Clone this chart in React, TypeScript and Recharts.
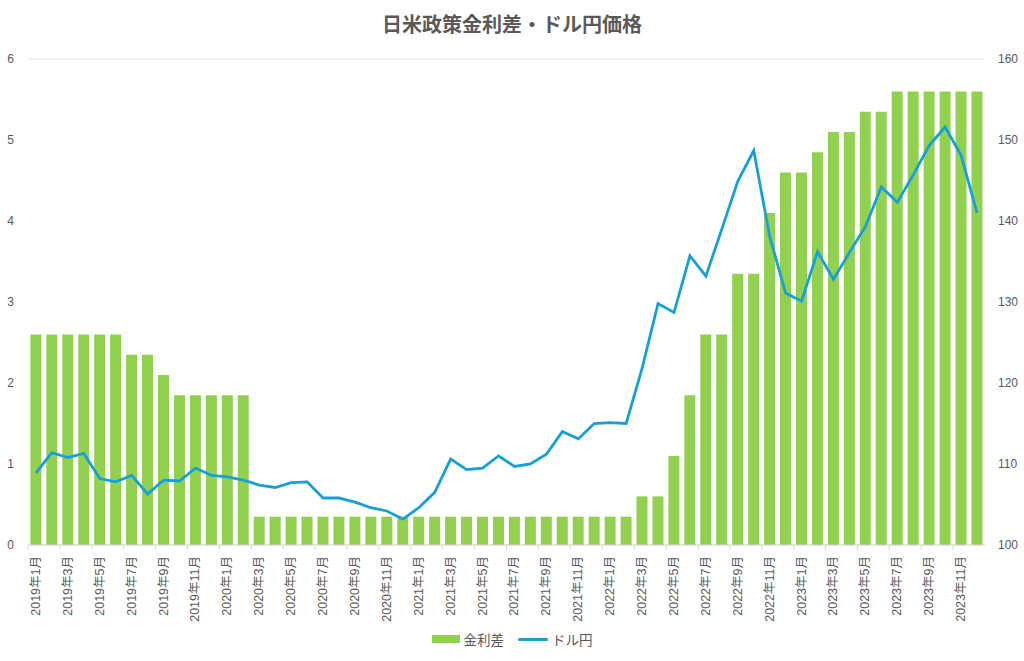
import { Bar, CartesianGrid, ComposedChart, Legend, Line, XAxis, YAxis } from "recharts";

const months = [
  "2019年1月", "2019年2月", "2019年3月", "2019年4月", "2019年5月", "2019年6月",
  "2019年7月", "2019年8月", "2019年9月", "2019年10月", "2019年11月", "2019年12月",
  "2020年1月", "2020年2月", "2020年3月", "2020年4月", "2020年5月", "2020年6月",
  "2020年7月", "2020年8月", "2020年9月", "2020年10月", "2020年11月", "2020年12月",
  "2021年1月", "2021年2月", "2021年3月", "2021年4月", "2021年5月", "2021年6月",
  "2021年7月", "2021年8月", "2021年9月", "2021年10月", "2021年11月", "2021年12月",
  "2022年1月", "2022年2月", "2022年3月", "2022年4月", "2022年5月", "2022年6月",
  "2022年7月", "2022年8月", "2022年9月", "2022年10月", "2022年11月", "2022年12月",
  "2023年1月", "2023年2月", "2023年3月", "2023年4月", "2023年5月", "2023年6月",
  "2023年7月", "2023年8月", "2023年9月", "2023年10月", "2023年11月", "2023年12月",
];

// 日米政策金利差 (%)
const spread = [
  2.6, 2.6, 2.6, 2.6, 2.6, 2.6, 2.35, 2.35, 2.1, 1.85, 1.85, 1.85,
  1.85, 1.85, 0.35, 0.35, 0.35, 0.35, 0.35, 0.35, 0.35, 0.35, 0.35, 0.35,
  0.35, 0.35, 0.35, 0.35, 0.35, 0.35, 0.35, 0.35, 0.35, 0.35, 0.35, 0.35,
  0.35, 0.35, 0.6, 0.6, 1.1, 1.85, 2.6, 2.6, 3.35, 3.35, 4.1, 4.6,
  4.6, 4.85, 5.1, 5.1, 5.35, 5.35, 5.6, 5.6, 5.6, 5.6, 5.6, 5.6,
];

// ドル円 (円)
const usdjpy = [
  108.9, 111.4, 110.8, 111.3, 108.2, 107.8, 108.6, 106.3, 108.0, 107.9, 109.5, 108.6,
  108.4, 108.0, 107.4, 107.1, 107.7, 107.8, 105.8, 105.8, 105.3, 104.6, 104.2, 103.2,
  104.6, 106.5, 110.6, 109.3, 109.5, 111.0, 109.7, 110.0, 111.2, 114.0, 113.1, 115.0,
  115.1, 115.0, 121.8, 129.8, 128.7, 135.7, 133.2, 139.0, 144.9, 148.7, 138.1, 131.1,
  130.1, 136.2, 132.8, 136.1, 139.3, 144.2, 142.3, 145.7, 149.3, 151.6, 148.1, 141.0,
];

const leftTicks = [0, 1, 2, 3, 4, 5, 6];
const rightTicks = [100, 110, 120, 130, 140, 150, 160];

const data = months.map((m, i) => ({ month: m, spread: spread[i], usdjpy: usdjpy[i] }));

const FONT = '"Liberation Sans", "Noto Sans CJK JP", sans-serif';
const TEXT = "#595959";
const GREEN = "#92d050";
const BLUE = "#17a0d8";

function MonthTick({ x, y, payload, width, visibleTicksCount }: any) {
  const band = visibleTicksCount ? width / (visibleTicksCount * 2) : 16;
  return (
    <g>
      <line x1={x - band / 2} x2={x - band / 2} y1={y - 8} y2={y - 3} stroke="#d9d9d9" />
      <text
        x={x}
        y={y}
        transform={`rotate(-90 ${x} ${y})`}
        dx={-3}
        dy={4}
        textAnchor="end"
        fill={TEXT}
        fontSize={12.5}
        fontFamily={FONT}
      >
        {payload.value}
      </text>
    </g>
  );
}

function LegendBox() {
  return (
    <div style={{ display: "flex", justifyContent: "center", gap: 14, fontFamily: FONT, fontSize: 13.5, color: TEXT }}>
      <span style={{ display: "flex", alignItems: "center", gap: 4 }}>
        <span style={{ width: 28, height: 8, background: GREEN, display: "inline-block" }} />
        金利差
      </span>
      <span style={{ display: "flex", alignItems: "center", gap: 4 }}>
        <span style={{ width: 30, height: 3, background: BLUE, display: "inline-block", borderRadius: 2 }} />
        ドル円
      </span>
    </div>
  );
}

export default function App() {
  return (
    <div style={{ position: "absolute", left: 0, top: 0, width: 1024, height: 661, background: "#fff" }}>
      <div
        style={{
          position: "absolute",
          top: 9,
          left: 0,
          width: 1024,
          textAlign: "center",
          fontFamily: FONT,
          fontSize: 20,
          fontWeight: "bold",
          color: TEXT,
        }}
      >
        日米政策金利差・ドル円価格
      </div>
      <ComposedChart
        width={1024}
        height={661}
        data={data}
        margin={{ top: 59, right: 0, bottom: 6, left: 0 }}
        barCategoryGap="15%"
      >
        <CartesianGrid vertical={false} stroke="#e3e3e3" />
        <XAxis
          dataKey="month"
          interval={1}
          height={84}
          tick={<MonthTick />}
          tickLine={false}
          axisLine={{ stroke: "#d9d9d9" }}
        />
        <YAxis
          yAxisId="left"
          width={28}
          domain={[0, 6]}
          ticks={leftTicks}
          tickLine={false}
          axisLine={false}
          tickSize={0}
          tickMargin={14}
          tick={{ fill: TEXT, fontSize: 12, fontFamily: FONT }}
        />
        <YAxis
          yAxisId="right"
          orientation="right"
          width={39}
          domain={[100, 160]}
          ticks={rightTicks}
          tickLine={false}
          axisLine={false}
          tickSize={0}
          tickMargin={13}
          tick={{ fill: TEXT, fontSize: 12, fontFamily: FONT }}
        />
        <Legend verticalAlign="bottom" height={26} content={<LegendBox />} />
        <Bar yAxisId="left" dataKey="spread" name="金利差" fill={GREEN} isAnimationActive={false} />
        <Line
          yAxisId="right"
          dataKey="usdjpy"
          name="ドル円"
          stroke={BLUE}
          strokeWidth={2.8}
          dot={false}
          type="linear"
          isAnimationActive={false}
        />
      </ComposedChart>
    </div>
  );
}
